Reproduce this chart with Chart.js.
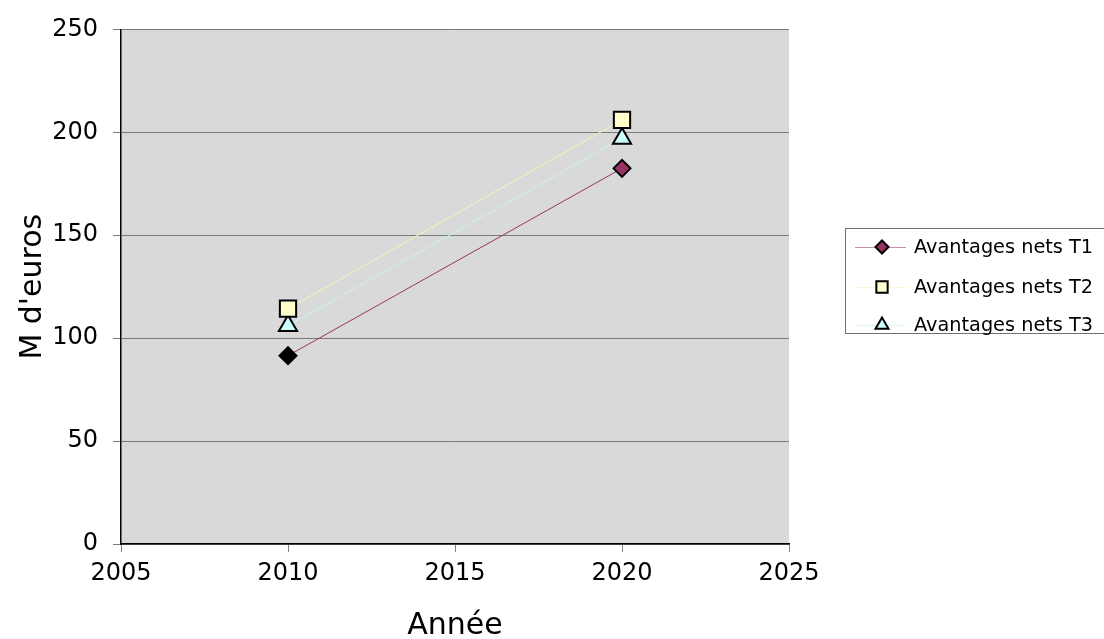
<!DOCTYPE html>
<html>
<head>
<meta charset="utf-8">
<script src="https://cdn.jsdelivr.net/npm/chart.js@4/dist/chart.umd.min.js"></script>
<style>
  html, body { margin: 0; padding: 0; background: #ffffff; }
  #c { display: block; }
</style>
</head>
<body>
<canvas id="c" width="1104" height="639"></canvas>
<script>
// Years on the horizontal axis
const years = [2010, 2020];
// Net benefits (M d'euros) for the three scenarios
const t1Values = [91.5, 182.5];
const t2Values = [114.3, 206];
const t3Values = [106, 197];
const seriesLabels = ['Avantages nets T1', 'Avantages nets T2', 'Avantages nets T3'];
const xTitle = 'Année';
const yTitle = "M d'euros";

const FONT = "'DejaVu Sans', sans-serif";

const toPoints = vals => years.map((yr, i) => ({ x: yr, y: vals[i] }));

// Grey plot-area fill
const plotBackground = {
  id: 'plotBackground',
  beforeDraw(chart) {
    const { ctx, chartArea: a } = chart;
    ctx.save();
    ctx.fillStyle = '#d9d9d9';
    ctx.fillRect(a.left, a.top, a.right - a.left, a.bottom - a.top);
    ctx.restore();
  }
};

// Boxed legend on the right: line sample with marker, then label
const boxedLegend = {
  id: 'boxedLegend',
  afterDraw(chart) {
    const ctx = chart.ctx;
    const left = 845.5, top = 228.5, width = 300, height = 105;
    ctx.save();
    ctx.fillStyle = '#ffffff';
    ctx.fillRect(left, top, width, height);
    ctx.strokeStyle = '#707070';
    ctx.lineWidth = 1;
    ctx.strokeRect(left, top, width, height);
    const rowY = [247, 287, 325];
    chart.data.datasets.forEach((ds, i) => {
      const y = rowY[i];
      ctx.strokeStyle = ds.legendLine;
      ctx.lineWidth = 1;
      ctx.beginPath();
      ctx.moveTo(855, y + 0.5);
      ctx.lineTo(906, y + 0.5);
      ctx.stroke();
      ctx.fillStyle = ds.legendFill;
      ctx.strokeStyle = '#000000';
      ctx.lineWidth = 2;
      Chart.helpers.drawPoint(ctx, { pointStyle: ds.pointStyle, radius: ds.legendRadius, borderWidth: 2 }, 882, y);
      ctx.fillStyle = '#000000';
      ctx.font = '19.3px ' + FONT;
      ctx.textBaseline = 'middle';
      ctx.textAlign = 'left';
      ctx.fillText(ds.label, 914, y + 1);
    });
    ctx.restore();
  }
};

new Chart(document.getElementById('c'), {
  type: 'line',
  data: {
    datasets: [
      {
        label: seriesLabels[0],
        data: toPoints(t1Values),
        borderColor: '#993366',
        borderWidth: 1,
        pointStyle: 'rectRot',
        pointRadius: 8.5,
        pointBackgroundColor: ['#000000', '#993366'],
        pointBorderColor: '#000000',
        pointBorderWidth: 2,
        legendFill: '#993366',
        legendLine: '#c98fac',
        legendRadius: 6.5
      },
      {
        label: seriesLabels[1],
        data: toPoints(t2Values),
        borderColor: '#f5f5b8',
        borderWidth: 1,
        pointStyle: 'rect',
        pointRadius: 11.5,
        pointBackgroundColor: '#ffffcc',
        pointBorderColor: '#000000',
        pointBorderWidth: 2,
        legendFill: '#ffffcc',
        legendLine: '#f8f8d8',
        legendRadius: 8
      },
      {
        label: seriesLabels[2],
        data: toPoints(t3Values),
        borderColor: '#c8f4f4',
        borderWidth: 1,
        pointStyle: 'triangle',
        pointRadius: 10.5,
        pointBackgroundColor: '#ccffff',
        pointBorderColor: '#000000',
        pointBorderWidth: 2,
        legendFill: '#ccffff',
        legendLine: '#d8f8f8',
        legendRadius: 7.5
      }
    ]
  },
  options: {
    responsive: false,
    animation: false,
    devicePixelRatio: 1,
    layout: { padding: { top: 25, right: 315, left: 0, bottom: 0 } },
    plugins: {
      legend: { display: false },
      tooltip: { enabled: false }
    },
    scales: {
      x: {
        type: 'linear',
        min: 2005,
        max: 2025,
        afterFit(scale) { scale.height = 95; },
        ticks: {
          stepSize: 5,
          color: '#000000',
          font: { family: FONT, size: 24 },
          padding: 7,
          callback: v => String(v)
        },
        grid: {
          drawOnChartArea: false,
          drawTicks: true,
          tickLength: 8,
          color: '#808080'
        },
        border: { display: true, color: '#000000', width: 1.5 },
        title: {
          display: true,
          text: xTitle,
          color: '#000000',
          font: { family: FONT, size: 30 },
          padding: { top: 0, bottom: -5 }
        }
      },
      y: {
        min: 0,
        max: 250,
        afterFit(scale) { scale.width = 121; },
        ticks: {
          stepSize: 50,
          color: '#000000',
          font: { family: FONT, size: 24 },
          padding: 15
        },
        grid: {
          drawOnChartArea: true,
          drawTicks: true,
          tickLength: 8,
          color: '#7a7a7a'
        },
        border: { display: true, color: '#000000', width: 1.5 },
        title: {
          display: true,
          text: yTitle,
          color: '#000000',
          font: { family: FONT, size: 30 },
          padding: { top: 15, bottom: 0 }
        }
      }
    }
  },
  plugins: [plotBackground, boxedLegend]
});
</script>
</body>
</html>
